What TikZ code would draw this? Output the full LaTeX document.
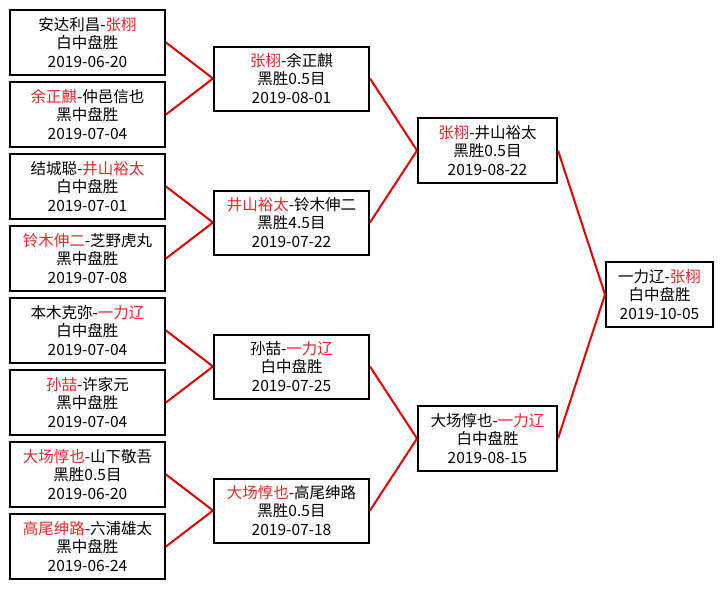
\documentclass[tikz,border=0pt]{standalone}
\usepackage{fontspec}
\setmainfont{Noto Sans CJK SC}
\definecolor{wred}{RGB}{228,40,40}
\definecolor{lred}{RGB}{225,0,0}
\newcommand{\w}[1]{\textcolor{wred}{#1}}
\begin{document}
\begin{tikzpicture}[x=1pt,y=-1pt,
  game/.style={draw=black,line width=2pt,fill=white,rectangle,align=center,inner sep=0pt,
    font=\fontsize{15.5}{18.5}\selectfont},
  r1/.style={game,minimum width=155pt,minimum height=65pt},
  r2/.style={game,minimum width=155pt,minimum height=64pt},
  r3/.style={game,minimum width=139pt,minimum height=65pt},
  r4/.style={game,minimum width=107pt,minimum height=65pt},
  link/.style={draw=lred,line width=2pt}]
\useasboundingbox[fill=white] (0,0) rectangle (723,589);
% round 1
\node[r1] (a1) at (87.5,42.5) {安达利昌-\w{张栩}\\白中盘胜\\2019-06-20};
\node[r1] (a2) at (87.5,114.5) {\w{余正麒}-仲邑信也\\黑中盘胜\\2019-07-04};
\node[r1] (a3) at (87.5,186.5) {结城聪-\w{井山裕太}\\白中盘胜\\2019-07-01};
\node[r1] (a4) at (87.5,258.5) {\w{铃木伸二}-芝野虎丸\\黑中盘胜\\2019-07-08};
\node[r1] (a5) at (87.5,330.5) {本木克弥-\w{一力辽}\\白中盘胜\\2019-07-04};
\node[r1] (a6) at (87.5,402.5) {\w{孙喆}-许家元\\黑中盘胜\\2019-07-04};
\node[r1] (a7) at (87.5,474.5) {\w{大场惇也}-山下敬吾\\黑胜0.5目\\2019-06-20};
\node[r1] (a8) at (87.5,546.5) {\w{高尾绅路}-六浦雄太\\黑中盘胜\\2019-06-24};
% round 2
\node[r2] (b1) at (291.5,78.5) {\w{张栩}-余正麒\\黑胜0.5目\\2019-08-01};
\node[r2] (b2) at (291.5,222.5) {\w{井山裕太}-铃木伸二\\黑胜4.5目\\2019-07-22};
\node[r2] (b3) at (291.5,366.5) {孙喆-\w{一力辽}\\白中盘胜\\2019-07-25};
\node[r2] (b4) at (291.5,510.5) {\w{大场惇也}-高尾绅路\\黑胜0.5目\\2019-07-18};
% round 3
\node[r3] (c1) at (487.5,150.5) {\w{张栩}-井山裕太\\黑胜0.5目\\2019-08-22};
\node[r3] (c2) at (487.5,438.5) {大场惇也-\w{一力辽}\\白中盘胜\\2019-08-15};
% final
\node[r4] (d1) at (659.5,294.5) {一力辽-\w{张栩}\\白中盘胜\\2019-10-05};
% links
\draw[link] (a1.east) -- (b1.west);
\draw[link] (a2.east) -- (b1.west);
\draw[link] (a3.east) -- (b2.west);
\draw[link] (a4.east) -- (b2.west);
\draw[link] (a5.east) -- (b3.west);
\draw[link] (a6.east) -- (b3.west);
\draw[link] (a7.east) -- (b4.west);
\draw[link] (a8.east) -- (b4.west);
\draw[link] (b1.east) -- (c1.west);
\draw[link] (b2.east) -- (c1.west);
\draw[link] (b3.east) -- (c2.west);
\draw[link] (b4.east) -- (c2.west);
\draw[link] (c1.east) -- (d1.west);
\draw[link] (c2.east) -- (d1.west);
\end{tikzpicture}
\end{document}
